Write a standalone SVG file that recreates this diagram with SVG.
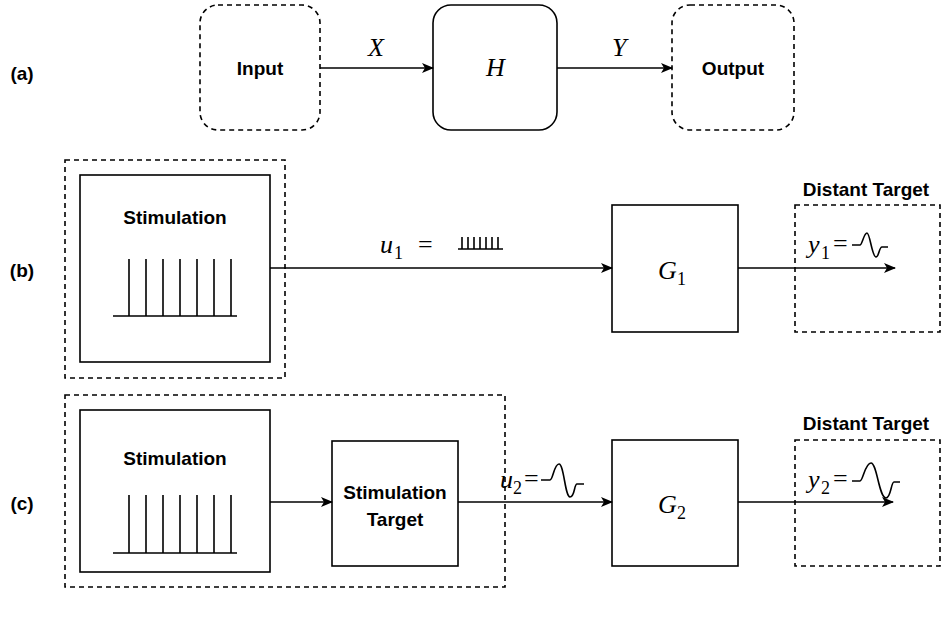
<svg xmlns="http://www.w3.org/2000/svg" width="943" height="619" viewBox="0 0 943 619">
<style>
.d{fill:none;stroke:#000;stroke-width:1.6;stroke-dasharray:5,4}
.s{fill:none;stroke:#000;stroke-width:1.6}
.b{font-family:"Liberation Sans",Arial,sans-serif;font-weight:bold;font-size:19px;text-anchor:middle}
.m{font-family:"Liberation Serif","Times New Roman",serif;font-style:italic;font-size:26px}
.n{font-family:"Liberation Serif","Times New Roman",serif;font-size:26px}
.sub{font-family:"Liberation Serif","Times New Roman",serif;font-size:18px}
</style>
<defs><marker id="ah" markerWidth="12" markerHeight="10" refX="11" refY="5" orient="auto" markerUnits="userSpaceOnUse"><path d="M0,0 L12,5 L0,10 L3,5 Z" fill="#000"/></marker></defs>
<g id="labels"><text class="b" x="22" y="80" font-size="20">(a)</text><text class="b" x="22" y="277">(b)</text><text class="b" x="22" y="510">(c)</text></g>
<g id="input"><rect class="d" x="200" y="5" width="120" height="125" rx="18"/><text class="b" x="260" y="75">Input</text></g>
<g id="H"><rect class="s" x="433" y="5" width="124" height="125" rx="18"/><text class="m" x="486" y="76" font-size="22">H</text></g>
<g id="output"><rect class="d" x="672" y="5" width="122" height="125" rx="18"/><text class="b" x="733" y="75">Output</text></g>
<g id="stimB"><rect class="d" x="65" y="160" width="220" height="218"/><rect class="s" x="80" y="175" width="190" height="187"/><text class="b" x="175" y="224">Stimulation</text>
<path class="s" d="M113,316H237M129,316V259M146,316V259M163,316V259M180,316V259M197,316V259M214,316V259M231,316V259"/></g>
<g id="G1"><rect class="s" x="612" y="205" width="126" height="127"/><text class="m" x="658" y="279">G</text><text class="sub" x="677" y="285">1</text></g>
<g id="targetB"><rect class="d" x="795" y="205" width="145" height="127"/><text class="b" x="866" y="196">Distant Target</text></g>
<g id="stimC"><rect class="d" x="65" y="395" width="440" height="192"/><rect class="s" x="80" y="410" width="190" height="162"/><text class="b" x="175" y="465">Stimulation</text>
<path class="s" d="M113,553H237M129,553V495M146,553V495M163,553V495M180,553V495M197,553V495M214,553V495M231,553V495"/></g>
<g id="stimTarget"><rect class="s" x="332" y="441" width="126" height="125"/><text class="b" x="395" y="499">Stimulation</text><text class="b" x="395" y="526">Target</text></g>
<g id="G2"><rect class="s" x="612" y="440" width="126" height="126"/><text class="m" x="658" y="513">G</text><text class="sub" x="677" y="519">2</text></g>
<g id="targetC"><rect class="d" x="795" y="440" width="145" height="126"/><text class="b" x="866" y="430">Distant Target</text></g>
<g id="connectors">
<path class="s" d="M320,68H433" marker-end="url(#ah)"/>
<path class="s" d="M557,68H672" marker-end="url(#ah)"/>
<path class="s" d="M270,268H612" marker-end="url(#ah)"/>
<path class="s" d="M738,268H895" marker-end="url(#ah)"/>
<path class="s" d="M270,502H332" marker-end="url(#ah)"/>
<path class="s" d="M458,502H612" marker-end="url(#ah)"/>
<path class="s" d="M738,502H893" marker-end="url(#ah)"/>
</g>
<g id="edgeLabels">
<text class="m" x="368" y="56" font-size="24">X</text><text class="m" x="612" y="56" font-size="24">Y</text>
<text class="m" x="380" y="253">u</text><text class="sub" x="394" y="259">1</text><text class="n" x="418" y="253">=</text>
<path class="s" d="M458,249H503M462,249V237M468,249V237M474,249V237M480,249V237M486,249V237M492,249V237M498,249V237" stroke-width="1.3"/>
<text class="m" x="500" y="488">u</text><text class="sub" x="513" y="494">2</text><text class="n" x="524" y="487">=</text>
<path class="s" d="M541,480H550C553,480 554,464 559,464C564,464 565,497 570,497C575,497 574,484 577,484H584" stroke-width="1.4"/>
<text class="m" x="808" y="253">y</text><text class="sub" x="821" y="259">1</text><text class="n" x="833" y="252">=</text>
<path class="s" d="M852,245H860C862,245 864,233 867,233C870,233 872,257 876,257C879,257 879,247 882,247H888" stroke-width="1.4"/>
<text class="m" x="808" y="488">y</text><text class="sub" x="821" y="494">2</text><text class="n" x="833" y="487">=</text>
<path class="s" d="M852,481H860C863,481 865,463 871,463C877,463 879,498 886,498C891,498 891,482 894,482H900" stroke-width="1.4"/>
</g>
</svg>
